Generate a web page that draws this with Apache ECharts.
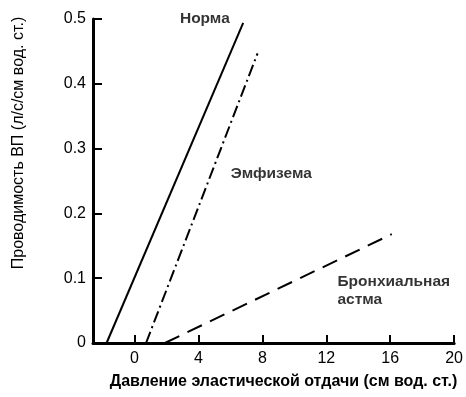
<!DOCTYPE html>
<html>
<head>
<meta charset="utf-8">
<script src="https://cdn.jsdelivr.net/npm/echarts@6/dist/echarts.min.js"></script>
<style>
  html, body { margin: 0; padding: 0; background: #fff; }
  #chart { width: 466px; height: 397px; }
</style>
</head>
<body>
<div id="chart"></div>
<script>
// линии: [давление, проводимость]
var normaLine = [[-1.75, 0], [6.8, 0.494]];
var emphysemaLine = [[0.72, 0], [7.7, 0.447]];
var asthmaLine = [[1.9, 0], [16.1, 0.168]];

var xTicks = [0, 4, 8, 12, 16, 20];

// подписи кривых и их место в координатах данных
var labelNames = ['Норма', 'Эмфизема', 'Бронхиальная\nастма'];
var labelPos = [[4.4, 0.5], [8.56, 0.261], [12.7, 0.08]];

var font = 'Liberation Sans, Arial, sans-serif';
var myChart = echarts.init(document.getElementById('chart'));

var option = {
    animation: false,
    grid: { left: 93, right: 5, top: 19, bottom: 54 },
    xAxis: {
        type: 'value',
        min: -2.6,
        max: 20,
        splitLine: { show: false },
        axisLine: { onZero: false, lineStyle: { color: '#000', width: 3 } },
        axisTick: { inside: true, length: 8, customValues: xTicks, lineStyle: { color: '#000', width: 2 } },
        axisLabel: { customValues: xTicks, color: '#000', fontSize: 16, fontFamily: font, margin: 8 },
        name: 'Давление эластической отдачи (см вод. ст.)',
        nameLocation: 'middle',
        nameGap: 31,
        nameTextStyle: { color: '#000', fontSize: 16, fontWeight: 'bold', fontFamily: font, padding: [0, 0, 0, 20] }
    },
    yAxis: {
        type: 'value',
        min: 0,
        max: 0.5,
        interval: 0.1,
        splitLine: { show: false },
        axisLine: { show: true, onZero: false, lineStyle: { color: '#000', width: 3 } },
        // тики внутрь: отрицательная длина
        axisTick: { show: true, inside: false, length: -9, lineStyle: { color: '#000', width: 2 } },
        axisLabel: { color: '#000', fontSize: 16, fontFamily: font, margin: 7 },
        name: 'Проводимость ВП (л/с/см вод. ст.)',
        nameLocation: 'middle',
        nameGap: 66,
        nameTextStyle: { color: '#000', fontSize: 16, fontFamily: font, padding: [0, 0, 0, 76] }
    },
    series: [
        {
            type: 'line', data: normaLine, symbol: 'none', clip: false,
            lineStyle: { color: '#000', width: 2 }
        },
        {
            type: 'line', data: emphysemaLine, symbol: 'none', clip: false,
            lineStyle: { color: '#000', width: 2, type: [12, 4, 2, 4] }
        },
        {
            type: 'line', data: asthmaLine, symbol: 'none', clip: false,
            lineStyle: { color: '#000', width: 2, type: [16, 9] }
        },
        {
            type: 'scatter', symbolSize: 0, clip: false,
            itemStyle: { color: '#000' },
            data: labelPos.map(function (p, i) {
                return {
                    value: p,
                    label: {
                        show: true,
                        formatter: labelNames[i],
                        position: 'inside',
                        align: i === 2 ? 'left' : 'center',
                        color: '#000',
                        textBorderWidth: 0,
                        textBorderColor: 'transparent',
                        fontSize: 15.5,
                        fontWeight: 'bold',
                        fontFamily: font,
                        lineHeight: 18
                    }
                };
            })
        }
    ]
};
myChart.setOption(option);
</script>
</body>
</html>
